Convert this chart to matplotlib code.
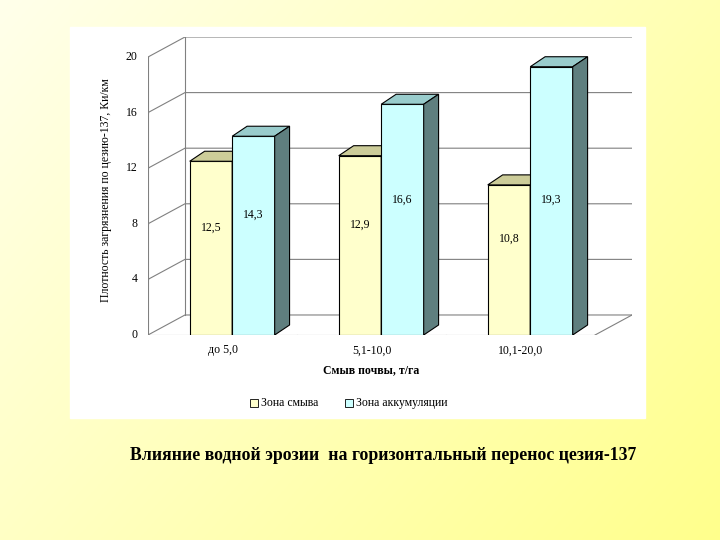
import numpy as np
import matplotlib
matplotlib.use("Agg")
import matplotlib.pyplot as plt
from matplotlib.patches import Polygon, Rectangle

categories = ["до 5,0", "5,1-10,0", "10,1-20,0"]
zona_smyva = [12.5, 12.9, 10.8]
zona_akk = [14.3, 16.6, 19.3]
labels_smyva = ["12,5", "12,9", "10,8"]
labels_akk = ["14,3", "16,6", "19,3"]
yticks = [0, 4, 8, 12, 16, 20]

W, H = 720, 540
fig = plt.figure(figsize=(W/100, H/100), dpi=100)

bg = fig.add_axes([0, 0, 1, 1])
gx = np.linspace(0, 1, 200)
gy = np.linspace(0, 1, 200)
X, Y = np.meshgrid(gx, gy)
t = np.clip(0.6*X + 0.4*Y, 0, 1)
c0 = np.array([1.0, 1.0, 0.92]); c1 = np.array([1.0, 1.0, 0.55])
img = c0[None, None, :]*(1-t[..., None]) + c1[None, None, :]*t[..., None]
bg.imshow(img, extent=[0, 1, 0, 1], aspect='auto', origin='upper')
bg.add_patch(Rectangle((70/W, 1-418/H), (645-70)/W, (418-27)/H, color='white'))
bg.set_xlim(0, 1); bg.set_ylim(0, 1); bg.axis('off')
bg.text(383/W, 1-456/H, "Влияние водной эрозии  на горизонтальный перенос цезия-137",
        ha='center', va='center', fontsize=12.8, fontweight='bold', family='Liberation Serif')

l, r, b, tp = 148, 632, 335, 37
ax = fig.add_axes([l/W, 1-b/H, (r-l)/W, (b-tp)/H])
DX, DY = 0.248, 1.44
ax.set_xlim(0, 3+DX); ax.set_ylim(0, 20+DY)
ax.axis('off')
grid = '#808080'
for v in yticks:
    ax.plot([0, DX, 3+DX], [v, v+DY, v+DY], color=grid, lw=0.8, zorder=1)
    ax.plot([-0.04, 0], [v, v], color=grid, lw=0.8)
    ax.text(-0.07, v, str(v), ha='right', va='center', fontsize=8.5, family='Liberation Serif')
ax.plot([0, 0], [0, 20], color=grid, lw=0.8)
ax.plot([DX, DX], [DY, 20+DY], color=grid, lw=0.8)
ax.plot([0, 3], [0, 0], color=grid, lw=0.8)
ax.plot([3, 3+DX], [0, DY], color=grid, lw=0.8)
for i in range(4):
    ax.plot([i, i], [0, -0.4], color=grid, lw=0.8)

bw, bdx, bdy = 0.285, 0.1, 0.72
def bar3d(x0, h, face, top, side, lab):
    ax.add_patch(Rectangle((x0, 0), bw, h, fc=face, ec='black', lw=0.8, zorder=3))
    ax.add_patch(Polygon([(x0, h), (x0+bdx, h+bdy), (x0+bw+bdx, h+bdy), (x0+bw, h)],
                         fc=top, ec='black', lw=0.8, zorder=3))
    ax.add_patch(Polygon([(x0+bw, 0), (x0+bw+bdx, bdy), (x0+bw+bdx, h+bdy), (x0+bw, h)],
                         fc=side, ec='black', lw=0.8, zorder=3))
    ax.text(x0+bw/2, min(h*0.5+1.5, 9.7), lab, ha='center', va='center', fontsize=8.5,
            family='Liberation Serif', zorder=4)

for i in range(3):
    x0 = i + 0.28
    bar3d(x0, zona_smyva[i], '#FFFFCC', '#CCCC99', '#99996B', labels_smyva[i])
    bar3d(x0+bw, zona_akk[i], '#CCFFFF', '#99CCCC', '#5F7F7F', labels_akk[i])
    ax.text(i+0.5, -1.1, categories[i], ha='center', va='center', fontsize=8.5,
            family='Liberation Serif')
ax.text(1.5, -2.55, "Смыв почвы, т/га", ha='center', va='center', fontsize=8.5,
        fontweight='bold', family='Liberation Serif')
fig.text(106/W, 1-190/H, "Плотность загрязнения по цезию-137, Ки/км",
         rotation=90, ha='center', va='center', fontsize=8.5, family='Liberation Serif')

def leg(x, face, txt):
    bg.add_patch(Rectangle((x/W, 1-407/H), 8/W, 8/H, fc=face, ec='black', lw=0.6))
    bg.text((x+11)/W, 1-403/H, txt, ha='left', va='center', fontsize=8.5, family='Liberation Serif')
leg(250, '#FFFFCC', "Зона смыва")
leg(345, '#CCFFFF', "Зона аккумуляции")

fig.savefig("out.png", dpi=100)
